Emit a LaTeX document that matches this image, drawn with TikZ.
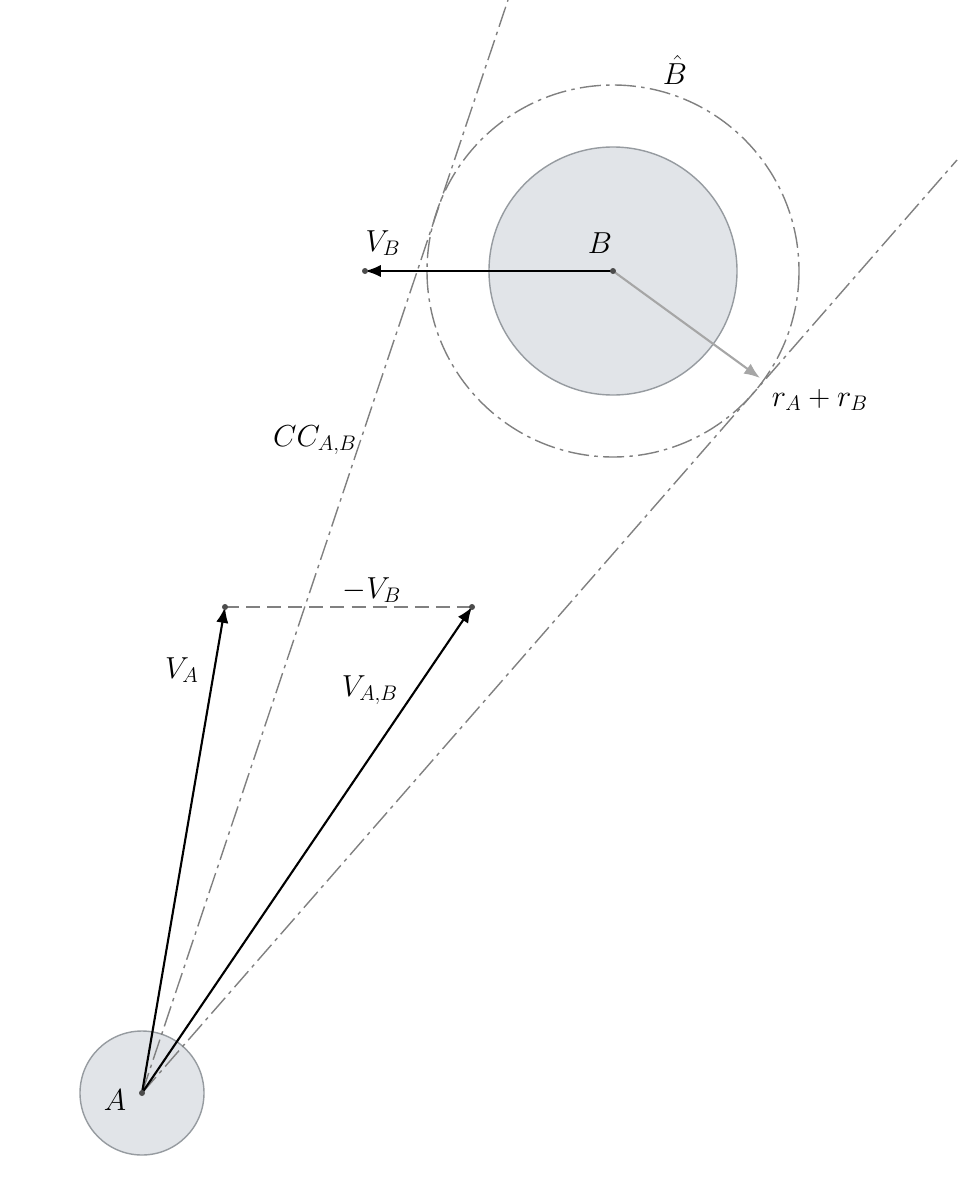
\documentclass[tikz,border=0pt]{standalone}
\usetikzlibrary{arrows.meta}
\definecolor{diskfill}{RGB}{225,228,232}
\definecolor{diskline}{RGB}{150,155,160}
\tikzset{
  disk/.style={circle,draw=diskline,fill=diskfill,line width=0.8pt,inner sep=0pt},
  guide/.style={draw=gray,line width=0.8pt,dash pattern=on 12pt off 3pt on 2pt off 3pt},
  vec/.style={-{Latex[length=9pt,width=7pt]},line width=1.2pt},
  lbl/.style={font=\LARGE}
}
\begin{document}
\begin{tikzpicture}[x=0.02cm,y=-0.02cm]
\useasboundingbox (0,0) rectangle (957,1200);

\node[disk,minimum size=124*0.02cm] (Adisk) at (142,1093) {};
\node[disk,minimum size=248*0.02cm] (Bdisk) at (613,271) {};
\coordinate (A) at (142,1093);
\coordinate (B) at (613,271);
\draw[guide] (B) circle (186);

\coordinate (topL) at (508,0);
\coordinate (topR) at (957,160);
\draw[guide] (A) -- (topL);
\draw[guide] (A) -- (topR);

\coordinate (VB) at (365,271);
\coordinate (VA) at (225,607);
\coordinate (VAB) at (472,607);
\coordinate (RR) at (760,378);

\draw[vec] (B) -- (VB);
\draw[vec,gray!70] (B) -- (RR);
\draw[vec] (A) -- (VA);
\draw[vec] (A) -- (VAB);
\draw[gray,line width=0.8pt,dash pattern=on 8pt off 4pt] (VA) -- (VAB);

\fill[gray!60!black] (A) circle (3) (B) circle (3) (VB) circle (3)
  (VA) circle (3) (VAB) circle (3);

\node[lbl] (lBh) at (675,70) {$\hat{B}$};
\node[lbl] (lVB) at (383,243) {$V_B$};
\node[lbl] (lB) at (600,243) {$B$};
\node[lbl] (lr) at (820,400) {$r_A+r_B$};
\node[lbl] (lCC) at (315,440) {$CC_{A,B}$};
\node[lbl] (lmVB) at (372,590) {$-V_B$};
\node[lbl] (lVA) at (182,670) {$V_A$};
\node[lbl] (lVAB) at (370,690) {$V_{A,B}$};
\node[lbl] (lA) at (115,1100) {$A$};
\end{tikzpicture}
\end{document}
